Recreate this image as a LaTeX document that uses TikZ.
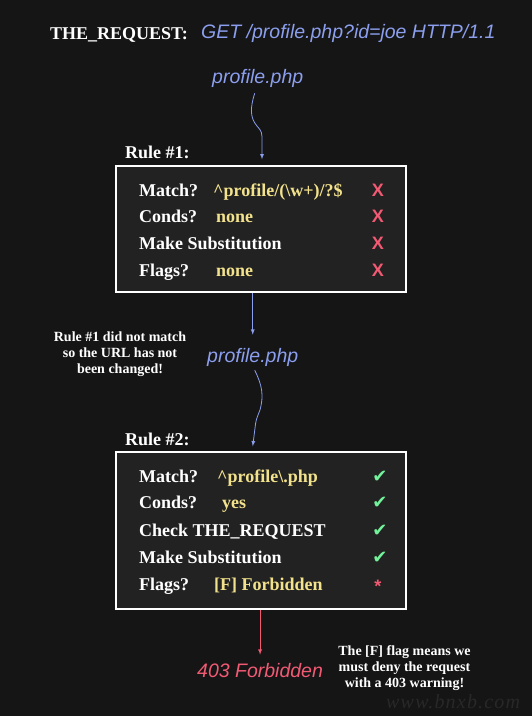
\documentclass[tikz,border=0pt]{standalone}
\usepackage{fontspec}
\setmainfont{Liberation Serif}
\newfontfamily\handfont{Liberation Sans}
\newfontfamily\symfont{DejaVu Sans}
\usetikzlibrary{positioning}

\definecolor{bgdark}{HTML}{151515}
\definecolor{boxfill}{HTML}{222222}
\definecolor{handblue}{HTML}{8C9FEE}
\definecolor{regexyellow}{HTML}{F3E28C}
\definecolor{failred}{HTML}{F25A74}
\definecolor{passgreen}{HTML}{72F29A}
\definecolor{wmgray}{HTML}{282828}

\begin{document}
\begin{tikzpicture}[x=1pt, y=-1pt,
    rowtxt/.style  = {anchor=base west, inner sep=0pt, text=white, font=\bfseries\fontsize{18}{20}\selectfont},
    rowval/.style  = {rowtxt, text=regexyellow},
    rowsign/.style = {anchor=base, inner sep=0pt, font=\handfont\bfseries\fontsize{18}{20}\selectfont},
    hand/.style    = {anchor=base west, inner sep=0pt, text=handblue, font=\handfont\itshape\fontsize{19.5}{22}\selectfont},
    note/.style    = {anchor=north, align=center, inner sep=0pt, text=white, font=\bfseries\fontsize{14}{16}\selectfont},
    rulebox/.style = {draw=white, line width=1.5pt, fill=boxfill, minimum width=290pt, inner sep=0pt}]

		\path[use as bounding box, fill=bgdark] (0,0) rectangle (532,716);
%
		\node[rowtxt] (req) at (50,39) {THE\_REQUEST:};
		\node[hand] (reqline) at (201,38) {GET /profile.php?id=joe HTTP/1.1};
		\node[hand] (path0) at (212,83) {profile.php};
%		%%%%%%%%%%%%%%%%%%% Rule 1
		\node[rowtxt] (rule1) at (125,158) {Rule \#1:};
		\node[rulebox, minimum height=126pt] (box1) at (261,229) {};
		\foreach \ty/\txt in {196/Match?, 222/Conds?, 249/Make Substitution, 276/Flags?}
			\node[rowtxt] (ra\ty) at (139,\ty) {\txt};
		\node[rowval] (val1a) at (213,196) {\textasciicircum profile/(\textbackslash w+)/?\$};
		\node[rowval] (val1b) at (216,222) {none};
		\node[rowval] (val1d) at (216,276) {none};
		\foreach \ty in {196,222,249,276}
			\node[rowsign, text=failred] (xa\ty) at (378,\ty) {X};
		\draw [handblue, thick, >=latex] [->] ([xshift=-3pt, yshift=-6pt]path0.south) .. controls (250,108) and (250,118) .. (257,126) .. controls (262,132) .. (262,142) -- ([xshift=1pt, yshift=6pt]box1.north); % wavy line
%		
		\node[note] (note1) at (120,332) {Rule \#1 did not match\\so the URL has not\\been changed!};
		\node[hand] (path1) at (207,362) {profile.php};
		\draw [handblue, thick, >=latex] [->] (path1.north |- box1.south) -- ([yshift=13pt]path1.north); % Vertical line
%		%%%%%%%%%%%%%%%%%%% Rule 2
		\node[rowtxt] (rule2) at (125,445) {Rule \#2:};
		\node[rulebox, minimum height=157pt] (box2) at (261,530.5) {};
		\draw [handblue, thick, >=latex] [->] ([xshift=2pt, yshift=-4pt]path1.south) .. controls (262,385) and (264,395) .. (260,410) .. controls (256,420) .. (255,428) -- ([yshift=5pt]path1.south |- box2.north); % wavy line
		\foreach \ty/\txt in {482/Match?, 508/Conds?, 536/Check THE\_REQUEST, 563/Make Substitution, 590/Flags?}
			\node[rowtxt] (rb\ty) at (139,\ty) {\txt};
		\node[rowval] (val2a) at (217,482) {\textasciicircum profile\textbackslash .php};
		\node[rowval] (val2b) at (222,508) {yes};
		\node[rowval] (val2e) at (214,590) {[F] Forbidden};
		\foreach \ty in {482,508,536,563}
			\node[rowsign, text=passgreen, font=\symfont\fontsize{18}{20}\selectfont] (ok\ty) at (380,\ty) {✔};
		\node[rowsign, anchor=center, text=failred] (star) at (378,586) {*};
%		%%%%%%%%%%%%%%%%%%% Result
		\node[hand, text=failred] (forbid) at (197,677) {403 Forbidden};
		\draw [failred, thick, >=latex] [->] (forbid.north |- box2.south) -- ([yshift=8pt]forbid.north); % Vertical line
		\node[note] (note2) at (404.5,645) {The [F] flag means we\\must deny the request\\with a 403 warning!};
		\node[anchor=base west, inner sep=0pt, text=wmgray, font=\itshape\fontsize{20}{22}\selectfont] (wm) at (386,708) {\addfontfeature{LetterSpace=6}www.bnxb.com};

\end{tikzpicture}
\end{document}
